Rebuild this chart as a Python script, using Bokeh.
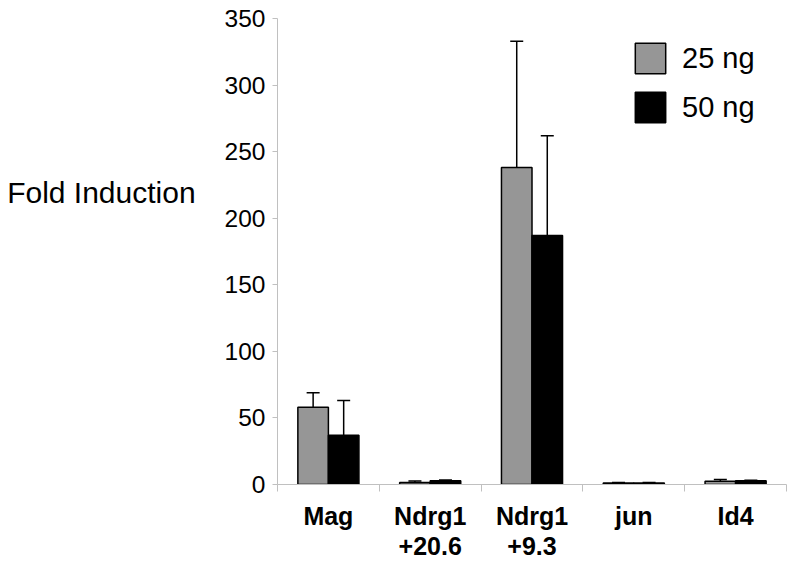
from bokeh.plotting import figure
from bokeh.models import (Range1d, FixedTicker, Whisker, TeeHead, ColumnDataSource,
                          Legend, LegendItem)
from bokeh.embed import file_html
from bokeh.resources import INLINE

categories = ["Mag", "Ndrg1\n+20.6", "Ndrg1\n+9.3", "jun", "Id4"]
series_names = ["25 ng", "50 ng"]
values_25 = [58, 1.5, 238, 1.2, 2.5]
values_50 = [37, 2.8, 187, 1.2, 2.8]
err_25 = [11, 1.2, 95, 0.3, 1.2]
err_50 = [26, 0.5, 75, 0.3, 0.3]
y_ticks = [0, 50, 100, 150, 200, 250, 300, 350]
y_title = "Fold Induction"

FONT = "Liberation Sans"
GRAY = "#969696"
AXIS_COLOR = "#c0c0c0"

n = len(categories)
bar_w = 0.3
centers = [i + 0.5 for i in range(n)]
x25 = [c - bar_w / 2 for c in centers]
x50 = [c + bar_w / 2 for c in centers]

p = figure(width=792, height=563, output_backend="svg", toolbar_location=None,
           x_range=Range1d(0, n), y_range=Range1d(0, 350),
           min_border_left=277, min_border_right=6, min_border_top=18,
           min_border_bottom=77)
p.outline_line_color = None
p.xgrid.visible = False
p.ygrid.visible = False
p.background_fill_color = "white"
p.border_fill_color = "white"

s25 = ColumnDataSource(dict(x=x25, top=values_25, upper=[v + e for v, e in zip(values_25, err_25)]))
s50 = ColumnDataSource(dict(x=x50, top=values_50, upper=[v + e for v, e in zip(values_50, err_50)]))

for src in (s25, s50):
    w = Whisker(base="x", lower="top", upper="upper", source=src, dimension="height",
                line_color="black", line_width=1.5,
                upper_head=TeeHead(size=13, line_color="black", line_width=1.5),
                lower_head=None, level="underlay")
    p.add_layout(w)

r25 = p.vbar(x="x", top="top", width=bar_w, bottom=0, source=s25,
             fill_color=GRAY, line_color="black", line_width=1.5)
r50 = p.vbar(x="x", top="top", width=bar_w, bottom=0, source=s50,
             fill_color="black", line_color="black", line_width=1.5)

# axes
yax = p.yaxis[0]
yax.ticker = FixedTicker(ticks=y_ticks)
yax.axis_line_color = AXIS_COLOR
yax.major_tick_line_color = AXIS_COLOR
yax.major_tick_out = 5
yax.major_tick_in = 0
yax.minor_tick_line_color = None
yax.major_label_text_font = FONT
yax.major_label_text_font_size = "24.5px"
yax.major_label_text_color = "black"
yax.major_label_standoff = 7
# horizontal axis title; blank extra lines lift the visible line above centre
yax.axis_label = y_title + "\n \n "
yax.axis_label_orientation = "horizontal"
yax.axis_label_text_font = FONT
yax.axis_label_text_font_size = "30px"
yax.axis_label_text_font_style = "normal"
yax.axis_label_text_color = "black"
yax.axis_label_text_line_height = 1.8
yax.axis_label_standoff = 26

xax = p.xaxis[0]
xax.ticker = FixedTicker(ticks=centers, minor_ticks=list(range(n + 1)))
xax.major_label_overrides = {c: lab for c, lab in zip(centers, categories)}
xax.axis_line_color = AXIS_COLOR
xax.major_tick_line_color = None
xax.major_tick_out = 0
xax.major_tick_in = 0
xax.minor_tick_line_color = AXIS_COLOR
xax.minor_tick_out = 7
xax.minor_tick_in = 0
xax.major_label_text_font = FONT
xax.major_label_text_font_size = "25px"
xax.major_label_text_font_style = "bold"
xax.major_label_text_line_height = 1.1
xax.major_label_text_color = "black"
xax.major_label_standoff = 10

legend = Legend(items=[LegendItem(label=series_names[0], renderers=[r25]),
                       LegendItem(label=series_names[1], renderers=[r50])],
                location=(354, 358), orientation="vertical",
                glyph_width=38, glyph_height=38, spacing=11, padding=0, margin=0,
                label_standoff=13, label_text_font=FONT, label_text_font_size="29px",
                label_text_color="black", border_line_color=None,
                background_fill_alpha=0)
p.add_layout(legend)

open("out.html", "w").write(file_html(p, INLINE))
